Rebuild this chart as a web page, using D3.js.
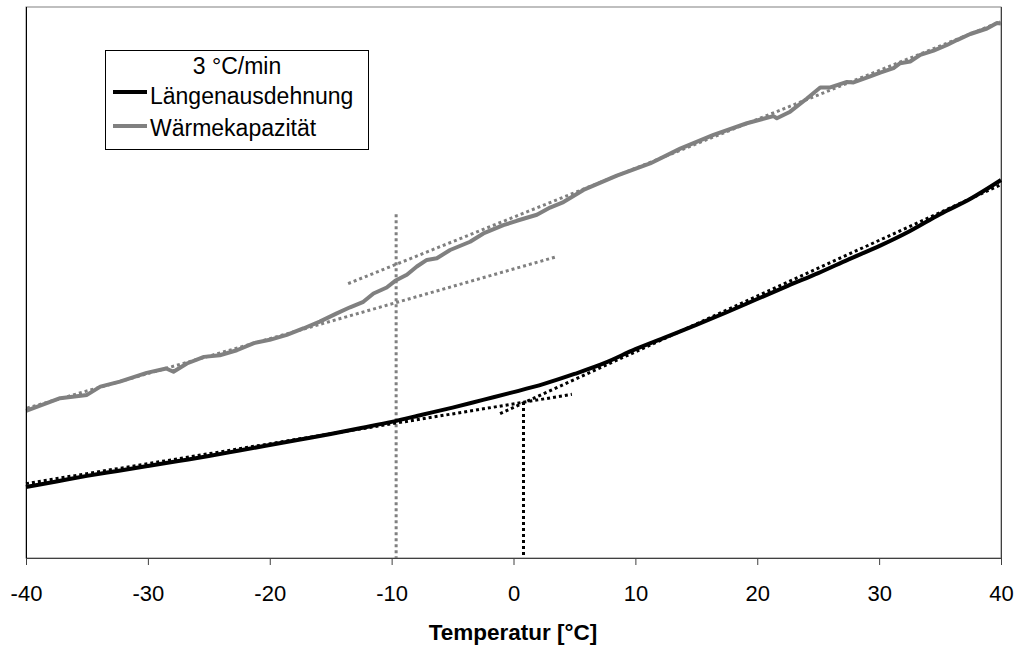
<!DOCTYPE html>
<html>
<head>
<meta charset="utf-8">
<script src="https://cdn.jsdelivr.net/npm/d3@7"></script>
<style>
  html, body { margin: 0; padding: 0; background: #fff; }
  svg text { font-family: "Liberation Sans", Arial, sans-serif; }
</style>
</head>
<body>
<svg id="chart" width="1018" height="646"></svg>
<script>
// ---- data ----
const blackTemps = [-40,-37.5,-35,-32.5,-30,-27.5,-25,-22.5,-20,-17.5,-15,-12.5,-10,-7.5,-5,-2.5,0,2.5,5,7.5,10,12.5,15,17.5,20,22.5,25,27.5,30,32.5,35,37.5,40];
const laengenausdehnung = [12.9,13.9,14.9,15.8,16.7,17.6,18.5,19.5,20.5,21.5,22.5,23.6,24.7,26.0,27.3,28.7,30.1,31.6,33.4,35.4,37.9,40.1,42.3,44.6,47.0,49.4,51.7,54.2,56.6,59.3,62.4,65.2,68.6];
const grayTemps = [-40,-37.2,-35.0,-33.9,-32.3,-30.1,-28.5,-27.9,-26.8,-25.4,-24.1,-22.7,-21.3,-20.0,-18.6,-17.2,-15.9,-14.5,-13.41,-12.32,-11.49,-10.40,-9.71,-8.75,-7.93,-7.11,-6.29,-5.20,-3.56,-2.47,-0.83,0.27,1.92,3.0,4.10,5.74,8.48,11.21,13.68,16.41,19.15,21.33,21.61,22.70,24.08,25.17,25.99,27.36,27.90,29.27,30.09,31.18,31.73,32.55,33.38,34.47,35.57,36.39,37.48,38.85,39.67,40];
const waermekapazitaet = [26.7,29.0,29.6,31.1,32.0,33.6,34.4,33.8,35.3,36.5,36.8,37.7,39.0,39.6,40.5,41.7,42.9,44.4,45.5,46.5,48.0,49.1,50.3,51.4,52.9,54.1,54.4,55.9,57.4,58.9,60.4,61.2,62.3,63.6,64.6,66.8,69.4,71.6,74.3,76.8,78.9,80.2,79.8,81.0,83.4,85.4,85.4,86.4,86.3,87.4,88.1,88.9,89.8,90.1,91.3,92.1,93.1,94.0,95.1,96.1,97.1,97.0];
// tangent / construction lines [ [t,v], [t,v] ]
const grayTangentUpper = [[-13.57,49.8],[39.94,97.3]];
const grayTangentLower = [[-39.92,27.2],[3.56,54.7]];
const grayVertical = [[-9.63,62.4],[-9.63,0]];
const blackTangentLower = [[-40,13.5],[4.79,29.7]];
const blackTangentUpper = [[-1.10,26.2],[39.94,67.7]];
const blackVertical = [[0.82,28.3],[0.82,0]];
const xTicks = [-40,-30,-20,-10,0,10,20,30,40];
const legendTitle = "3 °C/min";
const seriesNames = ["Längenausdehnung","Wärmekapazität"];
const xTitle = "Temperatur [°C]";

// ---- layout ----
const L = 26, R = 1001, T = 7, B = 558;
const svg = d3.select("#chart");
const x = d3.scaleLinear().domain([-40,40]).range([L,R]);
const y = d3.scaleLinear().domain([0,100]).range([B,T]);

// plot border
svg.append("rect").attr("x",L).attr("y",T).attr("width",R-L).attr("height",B-T)
  .attr("fill","none").attr("stroke","#808080").attr("stroke-width",1);
svg.append("line").attr("x1",R+0.5).attr("x2",R+0.5).attr("y1",T).attr("y2",B)
  .attr("stroke","#404040").attr("stroke-width",1);

// construction lines
const lineGen = d3.line().x(d=>x(d[0])).y(d=>y(d[1]));
function dotted(data, color){
  svg.append("path").attr("d",lineGen(data)).attr("fill","none")
    .attr("stroke",color).attr("stroke-width",3).attr("stroke-dasharray","3,3");
}
dotted(grayTangentUpper,"#808080");
dotted(grayTangentLower,"#808080");
dotted(grayVertical,"#808080");
dotted(blackTangentLower,"#000");
dotted(blackTangentUpper,"#000");
dotted(blackVertical,"#000");

// series
const grayLine = d3.line().x((d,i)=>x(grayTemps[i])).y(d=>y(d)).curve(d3.curveLinear);
const blackLine = d3.line().x((d,i)=>x(blackTemps[i])).y(d=>y(d)).curve(d3.curveMonotoneX);
svg.append("path").attr("d",grayLine(waermekapazitaet))
  .attr("fill","none").attr("stroke","#808080").attr("stroke-width",4).attr("stroke-linejoin","round");
svg.append("path").attr("d",blackLine(laengenausdehnung))
  .attr("fill","none").attr("stroke","#000").attr("stroke-width",4).attr("stroke-linejoin","round");

// axes
const xAxis = d3.axisBottom(x).tickValues(xTicks).tickSize(7).tickSizeOuter(0).tickPadding(20).tickFormat(d=>String(d));
const gx = svg.append("g").attr("transform",`translate(0,${B})`).call(xAxis);
gx.select(".domain").attr("stroke","#404040");
gx.selectAll(".tick line").attr("stroke","#404040");
gx.selectAll(".tick text").attr("font-size",22).attr("fill","#000")
  .attr("font-family","'Liberation Sans', Arial, sans-serif");
svg.append("line").attr("x1",L+0.5).attr("x2",L+0.5).attr("y1",T).attr("y2",B)
  .attr("stroke","#000").attr("stroke-width",1);

svg.append("text").attr("x",513).attr("y",640).attr("text-anchor","middle")
  .attr("font-size",22.5).attr("font-weight","bold").text(xTitle);

// legend
const lg = svg.append("g");
lg.append("rect").attr("x",105.5).attr("y",50.5).attr("width",263).attr("height",99)
  .attr("fill","#fff").attr("stroke","#000").attr("stroke-width",1);
lg.append("text").attr("x",237).attr("y",74).attr("text-anchor","middle").attr("font-size",23).text(legendTitle);
const legColors = ["#000","#808080"];
const legY = [92,126];
const legBase = [104,136];
seriesNames.forEach((n,i)=>{
  lg.append("line").attr("x1",113).attr("x2",147).attr("y1",legY[i]).attr("y2",legY[i])
    .attr("stroke",legColors[i]).attr("stroke-width",4);
  lg.append("text").attr("x",150).attr("y",legBase[i]).attr("font-size",23).text(n);
});
</script>
</body>
</html>
